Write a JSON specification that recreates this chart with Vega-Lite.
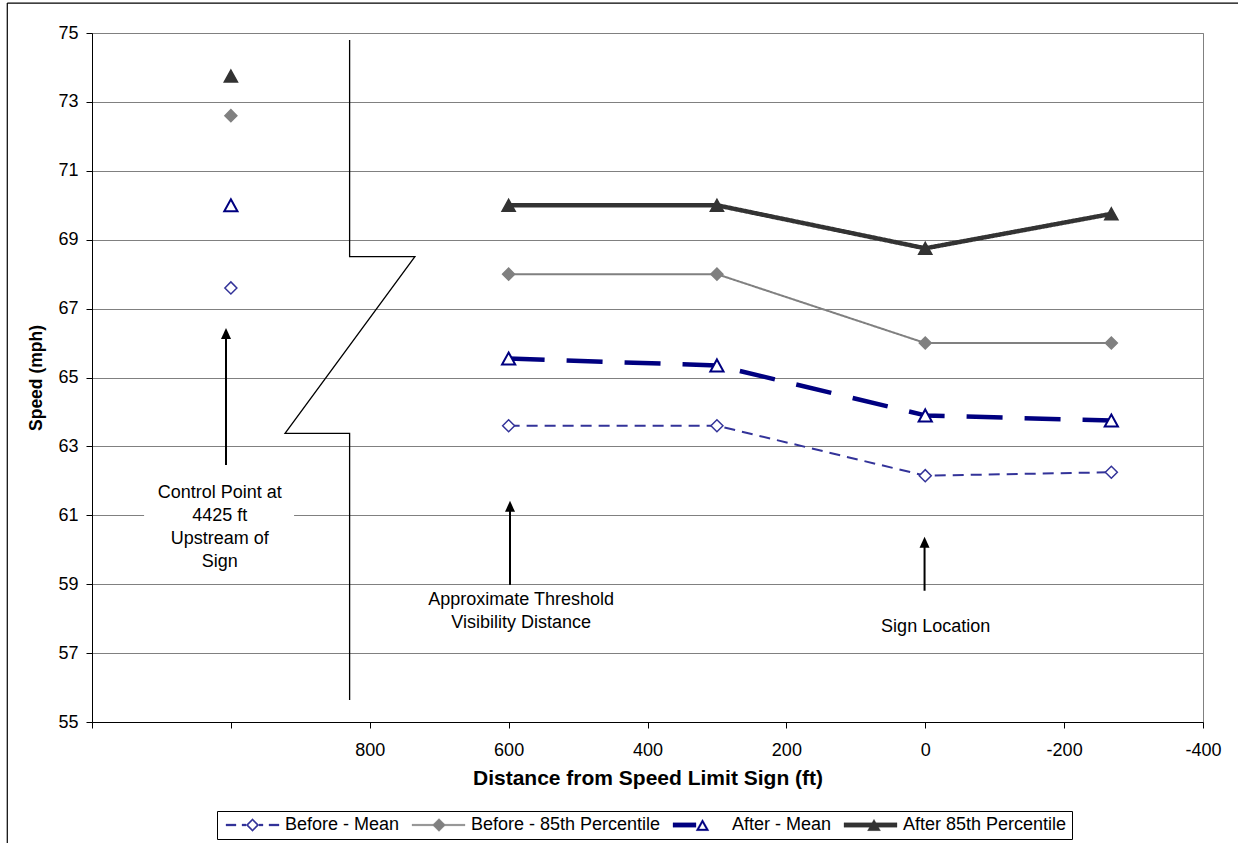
{
  "$schema": "https://vega.github.io/schema/vega-lite/v6.json",
  "width": 1111,
  "height": 689,
  "autosize": {"type": "none"},
  "padding": {"left": 92, "top": 33, "right": 35, "bottom": 121},
  "background": "white",
  "config": {
    "view": {"stroke": "#808080", "strokeWidth": 1},
    "font": "Liberation Sans",
    "axis": {
      "labelFont": "Liberation Sans",
      "titleFont": "Liberation Sans",
      "labelColor": "black",
      "titleColor": "black",
      "titleFontWeight": "bold",
      "labelFontSize": 18,
      "titleFontSize": 17.5,
      "domainColor": "black",
      "tickColor": "black",
      "tickSize": 6
    },
    "legend": {
      "orient": "none",
      "legendX": 125,
      "legendY": 778,
      "direction": "horizontal",
      "columns": 4,
      "strokeColor": "black",
      "fillColor": "white",
      "padding": 5,
      "labelFont": "Liberation Sans",
      "labelFontSize": 18,
      "labelColor": "black",
      "labelOffset": 45,
      "labelLimit": 400,
      "columnPadding": 8,
      "symbolSize": 100,
      "symbolStrokeWidth": 0.3,
      "symbolOpacity": 1
    }
  },
  "datasets": {
    "speeds": [
      {"series": "Before - Mean", "site": "control", "dist": 1000, "speed": 67.6},
      {"series": "Before - Mean", "site": "corridor", "dist": 600, "speed": 63.6},
      {"series": "Before - Mean", "site": "corridor", "dist": 300, "speed": 63.6},
      {"series": "Before - Mean", "site": "corridor", "dist": 0, "speed": 62.15},
      {"series": "Before - Mean", "site": "corridor", "dist": -268, "speed": 62.25},
      {"series": "Before - 85th Percentile", "site": "control", "dist": 1000, "speed": 72.6},
      {"series": "Before - 85th Percentile", "site": "corridor", "dist": 600, "speed": 68.0},
      {"series": "Before - 85th Percentile", "site": "corridor", "dist": 300, "speed": 68.0},
      {"series": "Before - 85th Percentile", "site": "corridor", "dist": 0, "speed": 66.0},
      {"series": "Before - 85th Percentile", "site": "corridor", "dist": -268, "speed": 66.0},
      {"series": "After - Mean", "site": "control", "dist": 1000, "speed": 70.0},
      {"series": "After - Mean", "site": "corridor", "dist": 600, "speed": 65.55},
      {"series": "After - Mean", "site": "corridor", "dist": 300, "speed": 65.35},
      {"series": "After - Mean", "site": "corridor", "dist": 0, "speed": 63.9},
      {"series": "After - Mean", "site": "corridor", "dist": -268, "speed": 63.75},
      {"series": "After 85th Percentile", "site": "control", "dist": 1000, "speed": 73.75},
      {"series": "After 85th Percentile", "site": "corridor", "dist": 600, "speed": 70.0},
      {"series": "After 85th Percentile", "site": "corridor", "dist": 300, "speed": 70.0},
      {"series": "After 85th Percentile", "site": "corridor", "dist": 0, "speed": 68.75},
      {"series": "After 85th Percentile", "site": "corridor", "dist": -268, "speed": 69.75}
    ],
    "axisBreak": [
      {"step": 1, "dist": 829, "speed": 74.8},
      {"step": 2, "dist": 829, "speed": 68.51},
      {"step": 3, "dist": 735, "speed": 68.51},
      {"step": 4, "dist": 922, "speed": 63.38},
      {"step": 5, "dist": 829, "speed": 63.38},
      {"step": 6, "dist": 829, "speed": 55.64}
    ],
    "arrows": [
      {"dist": 1007, "speed": 62.46, "neck": 66.32, "tip": 66.44},
      {"dist": 598, "speed": 58.98, "neck": 61.3, "tip": 61.42},
      {"dist": 1, "speed": 58.81, "neck": 60.26, "tip": 60.38}
    ],
    "notes": [
      {"label": "Control Point at\n4425 ft\nUpstream of\nSign", "dist": 1016, "speed": 61.49},
      {"label": "Approximate Threshold\nVisibility Distance", "dist": 582, "speed": 58.4},
      {"label": "Sign Location", "dist": -15, "speed": 57.62}
    ],
    "noteBox": [
      {"dist": 1125, "dist2": 909, "speed": 62.2, "speed2": 59.4}
    ],
    "frame": [
      {"dist": 1322, "dist2": -460, "speed": 75.87, "speed2": 75.87},
      {"dist": 1322, "dist2": 1322, "speed": 75.87, "speed2": 51}
    ]
  },
  "encoding": {
    "x": {
      "field": "dist",
      "type": "quantitative",
      "title": "Distance from Speed Limit Sign (ft)",
      "scale": {"domain": [-400, 1200], "reverse": true, "zero": false, "nice": false},
      "axis": {
        "values": [1200, 1000, 800, 600, 400, 200, 0, -200, -400],
        "labelExpr": "datum.value > 800 ? '' : '' + datum.value",
        "grid": false,
        "labelPadding": 13,
        "titlePadding": 8,
        "titleFontSize": 21,
        "labelFlush": false,
        "labelOverlap": false
      }
    },
    "y": {
      "field": "speed",
      "type": "quantitative",
      "title": "Speed (mph)",
      "scale": {"domain": [55, 75], "zero": false, "nice": false},
      "axis": {
        "values": [55, 57, 59, 61, 63, 65, 67, 69, 71, 73, 75],
        "grid": true,
        "gridColor": "#808080",
        "gridWidth": 1,
        "labelPadding": 8,
        "titlePadding": 12
      }
    }
  },
  "layer": [
    {
      "data": {"name": "frame"},
      "mark": {"type": "rule", "color": "black", "strokeWidth": 1.2, "clip": false},
      "encoding": {
        "x2": {"field": "dist2"},
        "y2": {"field": "speed2"}
      }
    },
    {
      "data": {"name": "noteBox"},
      "mark": {"type": "rect", "fill": "white", "stroke": null},
      "encoding": {
        "x2": {"field": "dist2"},
        "y2": {"field": "speed2"}
      }
    },
    {
      "data": {"name": "axisBreak"},
      "mark": {"type": "line", "color": "black", "strokeWidth": 1.3, "strokeJoin": "miter"},
      "encoding": {
        "order": {"field": "step", "type": "quantitative"}
      }
    },
    {
      "data": {"name": "arrows"},
      "mark": {"type": "rule", "color": "black", "strokeWidth": 2},
      "encoding": {
        "y2": {"field": "neck"}
      }
    },
    {
      "data": {"name": "arrows"},
      "mark": {"type": "point", "shape": "M0,0L1,2.2L-1,2.2Z", "size": 100, "filled": true, "color": "black", "opacity": 1, "strokeWidth": 0},
      "encoding": {
        "y": {"field": "tip", "type": "quantitative"}
      }
    },
    {
      "data": {"name": "notes"},
      "mark": {"type": "text", "align": "center", "baseline": "alphabetic", "lineBreak": "\n", "lineHeight": 22.8, "fontSize": 18, "font": "Liberation Sans", "fill": "black"},
      "encoding": {
        "text": {"field": "label"}
      }
    },
    {
      "data": {"name": "speeds"},
      "transform": [{"filter": "datum.site === 'corridor'"}],
      "mark": {"type": "line", "strokeJoin": "round", "strokeCap": "butt"},
      "encoding": {
        "detail": {"field": "series", "type": "nominal"},
        "stroke": {
          "condition": [
            {"test": "datum.series === 'Before - Mean'", "value": "#333399"},
            {"test": "datum.series === 'Before - 85th Percentile'", "value": "#808080"},
            {"test": "datum.series === 'After - Mean'", "value": "#000080"}
          ],
          "value": "#333333"
        },
        "strokeWidth": {
          "condition": {"test": "indexof(datum.series, 'After') === 0", "value": 4.5},
          "value": 2
        },
        "strokeDash": {
          "condition": [
            {"test": "datum.series === 'Before - Mean'", "value": [11, 7]},
            {"test": "datum.series === 'After - Mean'", "value": [36, 22]}
          ],
          "value": [1, 0]
        }
      }
    },
    {
      "data": {"name": "speeds"},
      "mark": {"type": "point", "opacity": 1, "size": 144},
      "encoding": {
        "stroke": {
          "condition": [
            {"test": "datum.series === 'Before - Mean'", "value": "#333399"},
            {"test": "datum.series === 'Before - 85th Percentile'", "value": "#808080"},
            {"test": "datum.series === 'After - Mean'", "value": "#000080"}
          ],
          "value": "#333333"
        },
        "shape": {
          "condition": {"test": "indexof(datum.series, 'Before') === 0", "value": "diamond"},
          "value": "M0,-1L1.1,1L-1.1,1Z"
        },
        "fill": {
          "condition": [
            {"test": "datum.series === 'Before - 85th Percentile'", "value": "#808080"},
            {"test": "datum.series === 'After 85th Percentile'", "value": "#333333"}
          ],
          "value": "white"
        },
        "strokeWidth": {
          "condition": {"test": "datum.series === 'After - Mean'", "value": 2},
          "value": 1.5
        }
      }
    },
    {
      "data": {"name": "speeds"},
      "mark": {"type": "point", "opacity": 0},
      "encoding": {
        "shape": {
          "field": "series",
          "type": "nominal",
          "title": null,
          "scale": {
            "domain": ["Before - Mean", "Before - 85th Percentile", "After - Mean", "After 85th Percentile"],
            "range": [
              "M-1,-0.2L1,-0.2L1,0.2L-1,0.2ZM2.2,-0.2L3,-0.2L3,0.2L2.2,0.2ZM4.3,-1.3L5.6,0L4.3,1.3L3,0ZM4.3,-0.88L3.42,0L4.3,0.88L5.18,0ZM5.6,-0.2L6.4,-0.2L6.4,0.2L5.6,0.2ZM7.6,-0.2L9.6,-0.2L9.6,0.2L7.6,0.2Z",
              "M-1,-0.15L9.6,-0.15L9.6,0.15L-1,0.15ZM4.4,-1.3L5.7,0L4.4,1.3L3.1,0Z",
              "M-1,-0.45L3.6,-0.45L3.6,0.45L-1,0.45ZM4.9,-1.13L6.2,1.13L3.6,1.13ZM4.9,-0.43L4.21,0.78L5.59,0.78Z",
              "M-1,-0.45L9.6,-0.45L9.6,0.45L-1,0.45ZM5,-1.13L6.3,1.13L3.7,1.13Z"
            ]
          }
        },
        "fill": {
          "field": "series",
          "type": "nominal",
          "title": null,
          "scale": {
            "domain": ["Before - Mean", "Before - 85th Percentile", "After - Mean", "After 85th Percentile"],
            "range": ["#333399", "#808080", "#000080", "#333333"]
          }
        },
        "stroke": {
          "field": "series",
          "type": "nominal",
          "title": null,
          "scale": {
            "domain": ["Before - Mean", "Before - 85th Percentile", "After - Mean", "After 85th Percentile"],
            "range": ["#333399", "#808080", "#000080", "#333333"]
          }
        }
      }
    }
  ]
}
